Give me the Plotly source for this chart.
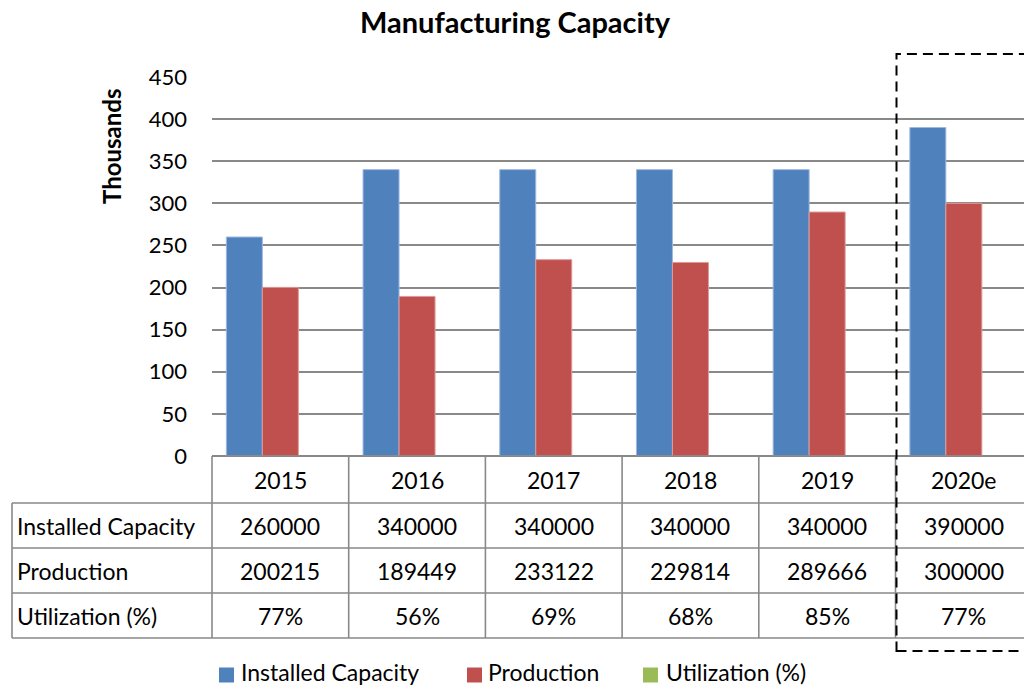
import plotly.graph_objects as go

# ---------------- data ----------------
categories = ["2015", "2016", "2017", "2018", "2019", "2020e"]
installed = [260000, 340000, 340000, 340000, 340000, 390000]
production = [200215, 189449, 233122, 229814, 289666, 300000]
utilization = [0.77, 0.56, 0.69, 0.68, 0.85, 0.77]
row_labels = ["Installed Capacity", "Production", "Utilization (%)"]
series_names = ["Installed Capacity", "Production", "Utilization (%)"]
series_colors = ["#4F81BD", "#C0504D", "#9BBB59"]
y_ticks = [0, 50, 100, 150, 200, 250, 300, 350, 400, 450]

# ---------------- layout constants ----------------
FONT = "Lato"
W, H = 1024, 688
L, R, T, B = 212, 0, 77, 232
XMIN, XMAX = -0.5, 5.44
PW = W - L - R
PH = H - T - B
GRID = "#898989"

def px_x(px):
    return (px - L) / PW

def px_y(py):
    return (H - B - py) / PH

def cat_x(v):
    return (v - XMIN) / (XMAX - XMIN)

fig = go.Figure()
fig.add_trace(go.Bar(name=series_names[0], x=categories, y=[v / 1000 for v in installed],
                     marker=dict(color=series_colors[0], line=dict(color="#9DB9DE", width=1))))
fig.add_trace(go.Bar(name=series_names[1], x=categories, y=[v / 1000 for v in production],
                     marker=dict(color=series_colors[1], line=dict(color="#DE9B99", width=1))))
fig.add_trace(go.Bar(name=series_names[2], x=categories, y=[v / 1000 for v in utilization],
                     marker=dict(color=series_colors[2], line=dict(width=0))))

shapes = []
annotations = []
line = dict(color=GRID, width=1.6)

# table rows (pixel positions of borders)
row_edges = [456, 503, 548, 593, 638]
ncol = len(categories)
right_edge = cat_x(ncol - 0.5)
shapes.append(dict(type="line", xref="paper", yref="paper", x0=0, x1=right_edge,
                   y0=px_y(row_edges[0]), y1=px_y(row_edges[0]), line=line))
for e in row_edges[1:]:
    shapes.append(dict(type="line", xref="paper", yref="paper", x0=px_x(12), x1=right_edge,
                       y0=px_y(e), y1=px_y(e), line=line))
shapes.append(dict(type="line", xref="paper", yref="paper", x0=px_x(12), x1=px_x(12),
                   y0=px_y(row_edges[1]), y1=px_y(row_edges[-1]), line=line))
for i in range(ncol + 1):
    xb = cat_x(i - 0.5)
    shapes.append(dict(type="line", xref="paper", yref="paper", x0=xb, x1=xb,
                       y0=px_y(row_edges[0]), y1=px_y(row_edges[-1]), line=line))

tfont = dict(family=FONT, size=23, color="black")
for i, c in enumerate(categories):
    annotations.append(dict(x=cat_x(i), y=px_y((row_edges[0] + row_edges[1]) / 2), xref="paper", yref="paper",
                            text=c, showarrow=False, font=tfont, xanchor="center", yanchor="middle"))
    vals = [str(installed[i]), str(production[i]), f"{round(utilization[i] * 100)}%"]
    for r, v in enumerate(vals):
        annotations.append(dict(x=cat_x(i), y=px_y((row_edges[r + 1] + row_edges[r + 2]) / 2),
                                xref="paper", yref="paper", text=v, showarrow=False, font=tfont,
                                xanchor="center", yanchor="middle"))
for r, lab in enumerate(row_labels):
    annotations.append(dict(x=px_x(15), y=px_y((row_edges[r + 1] + row_edges[r + 2]) / 2),
                            xref="paper", yref="paper", text=lab, showarrow=False, font=tfont,
                            xanchor="left", yanchor="middle"))

# y-axis title
annotations.append(dict(x=px_x(111), y=px_y(147), xref="paper", yref="paper", text="<b>Thousands</b>",
                        textangle=-90, showarrow=False, font=dict(family=FONT, size=24, color="black"),
                        xanchor="center", yanchor="middle"))

# legend (drawn manually to match the original placement)
legend_sq_x = [219, 467, 643]
legend_txt_x = [240, 487, 665]
LEG_Y = 675
SQ = 15
for name, col, sx, tx in zip(series_names, series_colors, legend_sq_x, legend_txt_x):
    shapes.append(dict(type="rect", xref="paper", yref="paper", x0=px_x(sx), x1=px_x(sx + SQ),
                       y0=px_y(LEG_Y - SQ / 2), y1=px_y(LEG_Y + SQ / 2), line=dict(width=0), fillcolor=col))
    annotations.append(dict(x=px_x(tx), y=px_y(LEG_Y - 3), xref="paper", yref="paper", text=name,
                            showarrow=False, font=tfont, xanchor="left", yanchor="middle", borderpad=0))

# dashed highlight around the estimate column
shapes.append(dict(type="rect", xref="paper", yref="paper", x0=cat_x(ncol - 1.5) + 1 / PW,
                   x1=cat_x(ncol - 0.5) + 8 / PW, y0=px_y(651), y1=px_y(54),
                   line=dict(color="black", width=2, dash="10px,6px"), fillcolor="rgba(0,0,0,0)"))

fig.update_layout(
    width=W, height=H,
    margin=dict(l=L, r=R, t=T, b=B),
    paper_bgcolor="white", plot_bgcolor="white",
    barmode="group", bargap=0.21, bargroupgap=0,
    title=dict(text="<b>Manufacturing Capacity</b>", x=515 / W, xref="container", xanchor="center",
               y=1 - 23 / H, yref="container", yanchor="middle",
               font=dict(family=FONT, size=29, color="black")),
    xaxis=dict(range=[XMIN, XMAX], showticklabels=False, showgrid=False, showline=False,
               zeroline=False, ticks=""),
    yaxis=dict(range=[0, 450], tickvals=y_ticks, showgrid=True, gridcolor=GRID, gridwidth=1.6,
               zeroline=True, zerolinecolor=GRID, zerolinewidth=1.6, showline=False, ticks="",
               ticklabelstandoff=24, tickfont=dict(family=FONT, size=22, color="black")),
    shapes=shapes, annotations=annotations,
    showlegend=False,
)

fig.write_html("out.html")
